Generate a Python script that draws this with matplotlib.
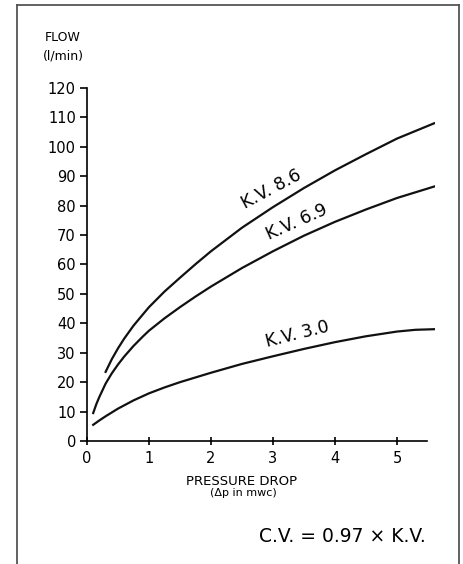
import matplotlib
matplotlib.use("Agg")
import matplotlib.pyplot as plt
from matplotlib.lines import Line2D

# values (pressure drop in mwc, flow in l/min)
dp_86 = [0.3, 0.4, 0.5, 0.6, 0.75, 0.9, 1.0, 1.25, 1.5, 1.75, 2.0, 2.5, 3.0, 3.5, 4.0, 4.5, 5.0, 5.6]
flow_86 = [23.5, 27.8, 31.5, 34.8, 39.2, 43.0, 45.5, 50.8, 55.5, 60.1, 64.5, 72.5, 79.5, 86.0, 92.0, 97.5, 102.8, 108.0]

dp_69 = [0.1, 0.15, 0.2, 0.3, 0.4, 0.5, 0.6, 0.75, 0.9, 1.0, 1.25, 1.5, 1.75, 2.0, 2.5, 3.0, 3.5, 4.0, 4.5, 5.0, 5.6]
flow_69 = [9.5, 12.5, 15.0, 19.5, 23.0, 26.0, 28.7, 32.3, 35.5, 37.5, 41.7, 45.5, 49.1, 52.5, 58.8, 64.5, 69.8, 74.5, 78.7, 82.6, 86.5]

dp_30 = [0.1, 0.2, 0.3, 0.4, 0.5, 0.75, 1.0, 1.25, 1.5, 2.0, 2.5, 3.0, 3.5, 4.0, 4.5, 5.0, 5.3, 5.6]
flow_30 = [5.5, 7.0, 8.4, 9.7, 11.0, 13.8, 16.2, 18.2, 20.0, 23.2, 26.2, 28.8, 31.3, 33.6, 35.6, 37.2, 37.8, 38.0]

labels = ["K.V. 8.6", "K.V. 6.9", "K.V. 3.0"]
xticks = [0, 1, 2, 3, 4, 5]
yticks = list(range(0, 121, 10))

plt.rcParams['font.family'] = ['DejaVu Sans']

fig = plt.figure(figsize=(4.64, 5.64), dpi=100)
ax = fig.add_axes([0.1875, 0.2181, 0.7509, 0.6259])

ax.plot(dp_86, flow_86, color='#111111', lw=1.6)
ax.plot(dp_69, flow_69, color='#111111', lw=1.6)
ax.plot(dp_30, flow_30, color='#111111', lw=1.6)

ax.set_xlim(0, 5.62)
ax.set_ylim(0, 120)
ax.set_xticks(xticks)
ax.set_yticks(yticks)
ax.spines['top'].set_visible(False)
ax.spines['right'].set_visible(False)
ax.spines['left'].set_linewidth(1.2)
ax.spines['bottom'].set_linewidth(1.2)
ax.spines['bottom'].set_bounds(0, 5.48)
ax.tick_params(axis='y', direction='out', length=5, width=1.2, pad=3, labelsize=10.5)
ax.tick_params(axis='x', direction='inout', length=6, width=1.2, pad=4, labelsize=10.5)

# curve labels
ax.text(2.97, 85.5, labels[0], rotation=28, ha='center', va='center', fontsize=12.5)
ax.text(3.39, 74.5, labels[1], rotation=24, ha='center', va='center', fontsize=12.5)
ax.text(3.4, 36.4, labels[2], rotation=14, ha='center', va='center', fontsize=12.5)

fig.text(0.1358, 0.934, "FLOW", ha='center', va='center', fontsize=9)
fig.text(0.1358, 0.9007, "(l/min)", ha='center', va='center', fontsize=9)
fig.text(0.5205, 0.1454, "PRESSURE DROP", ha='center', va='center', fontsize=9.5)
fig.text(0.5237, 0.1259, "(\u0394p in mwc)", ha='center', va='center', fontsize=8)
fig.text(0.737, 0.0479, "C.V. = 0.97 \u00d7 K.V.", ha='center', va='center', fontsize=13.5)

# frame around the figure (open at the bottom)
fx0, fx1, fy1 = 17 / 464, 459 / 464, 1 - 5 / 564
for xs, ys in [([fx0, fx0], [-0.01, fy1]), ([fx0, fx1], [fy1, fy1]), ([fx1, fx1], [fy1, -0.01])]:
    fig.add_artist(Line2D(xs, ys, color='#555555', lw=1.3))

fig.savefig('out.png', dpi=100)
